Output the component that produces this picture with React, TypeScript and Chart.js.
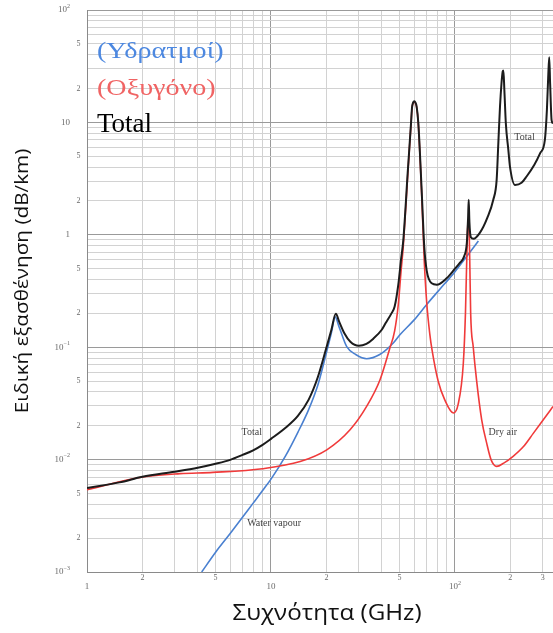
import React, { useEffect, useRef } from 'react';
import { Chart, registerables } from 'chart.js';

Chart.register(...registerables);

// ---- Data (frequency in GHz, specific attenuation in dB/km) ----
const totalFreq = [1, 1.5, 2, 3, 4, 5, 6, 7, 8, 9, 10, 12, 14, 16, 18, 20, 21.3, 22.5, 23.5, 25, 27, 30, 33, 36, 40, 42, 45, 47, 49.2, 50.9, 52.4, 55.3, 57.7, 58.4, 59.2, 60.1, 61, 61.9, 63.2, 65.9, 68.1, 70.2, 74.7, 79.6, 90, 100, 106, 112, 116, 117.8, 118.75, 119.8, 122, 126, 137, 150, 161.5, 168.5, 172, 175.7, 179, 181.7, 183.3, 185.5, 189, 195, 199, 212, 230, 245, 270, 290, 308, 316, 321, 325.2, 329, 335, 341];
const totalAtten = [0.0056, 0.00627, 0.00703, 0.0078, 0.00846, 0.00918, 0.00995, 0.011, 0.0121, 0.01354, 0.0153, 0.0192, 0.0245, 0.034, 0.0546, 0.0988, 0.143, 0.198, 0.168, 0.134, 0.112, 0.103, 0.107, 0.119, 0.143, 0.164, 0.198, 0.23, 0.36, 0.6, 0.9, 3.5, 9.9, 13.5, 15.0, 15.4, 15.0, 13.8, 9.9, 2.5, 0.78, 0.48, 0.37, 0.36, 0.41, 0.5, 0.56, 0.64, 0.85, 1.4, 2.05, 1.3, 0.95, 0.92, 1.05, 1.42, 2.05, 3.1, 6.5, 13.9, 22.3, 28.4, 29, 19.5, 9.8, 5.7, 4.05, 2.78, 2.9, 3.3, 4.2, 5.3, 7.0, 13, 25, 38, 22, 10.5, 9.8];

const vapourFreq = [4.2, 5, 6, 8, 9, 10, 12, 14, 16, 18, 20, 21.3, 22.3, 23.5, 25.8, 29, 33.1, 39, 46.2, 50.2, 60, 70.2, 88.3, 100, 115.7, 134];
const vapourAtten = [0.001, 0.0015, 0.0022, 0.0041, 0.0053, 0.0067, 0.0108, 0.0175, 0.0277, 0.0463, 0.0891, 0.134, 0.186, 0.15, 0.101, 0.0857, 0.079, 0.086, 0.109, 0.129, 0.175, 0.24, 0.37, 0.47, 0.64, 0.88];

const dryFreq = [1, 2, 3.2, 4.84, 9, 14.4, 20.1, 26.9, 33.1, 39.1, 44, 47, 49.2, 50.9, 52.4, 55.3, 57.7, 58.4, 59.2, 60.1, 61, 61.9, 63.2, 65.9, 68.1, 70.2, 73, 75, 81, 88, 98, 104, 111, 114, 117, 118.75, 120.3, 121.7, 125.7, 131, 139.7, 148.7, 157, 168.5, 184, 207, 235, 267, 302, 341];
const dryAtten = [0.0054, 0.007, 0.0075, 0.0077, 0.0083, 0.0096, 0.0122, 0.0184, 0.0297, 0.051, 0.095, 0.14, 0.24, 0.47, 0.8, 3.3, 9.7, 13.3, 14.8, 15.2, 14.8, 13.6, 9.7, 2.3, 0.58, 0.25, 0.13, 0.095, 0.05, 0.034, 0.026, 0.031, 0.072, 0.2, 1.1, 1.4, 0.6, 0.2, 0.1, 0.051, 0.0226, 0.014, 0.01, 0.0087, 0.0093, 0.0107, 0.013, 0.0172, 0.0226, 0.0297];

// ---- Axis ticks and labels ----
const xMin = 1;
const xMax = 341;
const yMin = 0.001;
const yMax = 100;
const xGridValues = [1, 2, 3, 4, 5, 6, 7, 8, 9, 10, 20, 30, 40, 50, 60, 70, 80, 90, 100, 200, 300];
const yGridValues = [0.001, 0.002, 0.003, 0.004, 0.005, 0.006, 0.007, 0.008, 0.009, 0.01, 0.02, 0.03, 0.04, 0.05, 0.06, 0.07, 0.08, 0.09, 0.1, 0.2, 0.3, 0.4, 0.5, 0.6, 0.7, 0.8, 0.9, 1, 2, 3, 4, 5, 6, 7, 8, 9, 10, 20, 30, 40, 50, 60, 70, 80, 90, 100];
const xLabelValues = [1, 2, 5, 10, 20, 50, 100, 200, 300];
const xLabelTexts = ['1', '2', '5', '10', '2', '5', '10^2', '2', '3'];
const yLabelValues = [0.001, 0.002, 0.005, 0.01, 0.02, 0.05, 0.1, 0.2, 0.5, 1, 2, 5, 10, 20, 50, 100];
const yLabelTexts = ['10^−3', '2', '5', '10^−2', '2', '5', '10^−1', '2', '5', '1', '2', '5', '10', '2', '5', '10^2'];

// ---- Curve annotations (anchored in data units) ----
const noteTexts = ['Total', 'Water vapour', 'Dry air', 'Total'];
const noteFreq = [7.86, 10.4, 182, 238.7];
const noteAtten = [0.0173, 0.00271, 0.0173, 7.37];

const legendTexts = ['(Υδρατμοί)', '(Οξυγόνο)', 'Total'];
const legendColors = ['#4d88e0', '#f06464', '#000000'];

const xTitle = 'Συχνότητα (GHz)';
const yTitle = 'Ειδική εξασθένηση (dB/km)';

const isDecade = (v: number) => Math.abs(Math.log10(v) - Math.round(Math.log10(v))) < 1e-9;

function drawTickText(ctx: CanvasRenderingContext2D, text: string, x: number, y: number, align: string, size: number) {
  const [base, exp] = text.split('^');
  const baseFont = `${size}px "Liberation Serif"`;
  const expFont = `${Math.round(size * 0.72)}px "Liberation Serif"`;
  ctx.font = baseFont;
  const bw = ctx.measureText(base).width;
  let ew = 0;
  if (exp) {
    ctx.font = expFont;
    ew = ctx.measureText(exp).width;
  }
  const total = bw + ew;
  const left = align === 'right' ? x - total : align === 'center' ? x - total / 2 : x;
  ctx.textAlign = 'left';
  ctx.textBaseline = 'middle';
  ctx.font = baseFont;
  ctx.fillText(base, left, y);
  if (exp) {
    ctx.font = expFont;
    ctx.fillText(exp, left + bw, y - size * 0.42);
  }
}

const overlayPlugin = {
  id: 'overlay',
  afterDraw(chart: any) {
    const ctx: CanvasRenderingContext2D = chart.ctx;
    const xs = chart.scales.x;
    const ys = chart.scales.y;
    const area = chart.chartArea;
    ctx.save();
    // tick labels
    ctx.fillStyle = '#6a6a6a';
    yLabelValues.forEach((v, i) => {
      const py = ys.getPixelForValue(v);
      const major = isDecade(v);
      drawTickText(ctx, yLabelTexts[i], major ? area.left - 17 : area.left - 6.5, py, 'right', major ? 9 : 8);
    });
    xLabelValues.forEach((v, i) => {
      const px = xs.getPixelForValue(v);
      const major = isDecade(v);
      drawTickText(ctx, xLabelTexts[i], px, major ? area.bottom + 15 : area.bottom + 6, 'center', major ? 9 : 8);
    });
    // curve notes
    ctx.fillStyle = '#444';
    ctx.font = '10px "Liberation Serif"';
    ctx.textAlign = 'center';
    ctx.textBaseline = 'middle';
    noteTexts.forEach((t, i) => {
      ctx.fillText(t, xs.getPixelForValue(noteFreq[i]), ys.getPixelForValue(noteAtten[i]));
    });
    // legend texts
    ctx.textAlign = 'left';
    ctx.textBaseline = 'alphabetic';
    const legendBaselines = [58, 95, 132];
    const legendSizes = [24, 24, 27];
    const legendStretch = [1.17, 1.17, 1.0];
    legendTexts.forEach((t, i) => {
      ctx.save();
      ctx.fillStyle = legendColors[i];
      ctx.font = `${legendSizes[i]}px "Liberation Serif"`;
      ctx.translate(area.left + 10, legendBaselines[i]);
      ctx.scale(legendStretch[i], 1);
      ctx.fillText(t, 0, 0);
      ctx.restore();
    });
    // axis titles
    ctx.fillStyle = '#111';
    ctx.textAlign = 'center';
    ctx.save();
    ctx.font = '22px "Open Sans"';
    ctx.translate((area.left + area.right) / 2 + 7, 620);
    ctx.scale(1.1, 1);
    ctx.fillText(xTitle, 0, 0);
    ctx.restore();
    ctx.save();
    ctx.font = '18px "Open Sans"';
    ctx.translate(28, (area.top + area.bottom) / 2 - 10);
    ctx.rotate(-Math.PI / 2);
    ctx.scale(1.15, 1);
    ctx.fillText(yTitle, 0, 0);
    ctx.restore();
    ctx.restore();
  },
};

const gridColor = (c: any) => (c.tick && c.tick.major ? '#9a9a9a' : '#d2d2d2');

export default function App() {
  const canvasRef = useRef<HTMLCanvasElement | null>(null);

  useEffect(() => {
    if (!canvasRef.current) return;
    const chart = new Chart(canvasRef.current, {
      type: 'line',
      data: {
        datasets: [
          {
            label: 'Total',
            data: totalFreq.map((f, i) => ({ x: f, y: totalAtten[i] })),
            borderColor: '#1c1c1c',
            borderWidth: 2,
            pointRadius: 0,
            cubicInterpolationMode: 'monotone',
            order: 0,
          },
          {
            label: 'Dry air',
            data: dryFreq.map((f, i) => ({ x: f, y: dryAtten[i] })),
            borderColor: '#f03a3a',
            borderWidth: 1.6,
            pointRadius: 0,
            cubicInterpolationMode: 'monotone',
            order: 1,
          },
          {
            label: 'Water vapour',
            data: vapourFreq.map((f, i) => ({ x: f, y: vapourAtten[i] })),
            borderColor: '#4a80d0',
            borderWidth: 1.6,
            pointRadius: 0,
            cubicInterpolationMode: 'monotone',
            order: 2,
          },
        ],
      },
      options: {
        animation: false,
        responsive: false,
        devicePixelRatio: 1,
        layout: { padding: { top: 10, right: 0, left: 0, bottom: 0 } },
        plugins: { legend: { display: false }, tooltip: { enabled: false } },
        scales: {
          x: {
            type: 'logarithmic',
            min: xMin,
            max: xMax,
            afterBuildTicks: (s: any) => {
              s.ticks = xGridValues.map((v) => ({ value: v, major: isDecade(v) }));
            },
            afterFit: (s: any) => {
              s.height = 61;
            },
            ticks: { display: false },
            grid: { color: gridColor, drawTicks: false, lineWidth: 1 },
            border: { color: '#8a8a8a', width: 1 },
            title: { display: false },
          },
          y: {
            type: 'logarithmic',
            min: yMin,
            max: yMax,
            afterBuildTicks: (s: any) => {
              s.ticks = yGridValues.map((v) => ({ value: v, major: isDecade(v) }));
            },
            afterFit: (s: any) => {
              s.width = 87;
            },
            ticks: { display: false },
            grid: { color: gridColor, drawTicks: false, lineWidth: 1 },
            border: { color: '#8a8a8a', width: 1 },
            title: { display: false },
          },
        },
      },
      plugins: [overlayPlugin],
    } as any);
    return () => chart.destroy();
  }, []);

  return (
    <div style={{ position: 'absolute', left: 0, top: 0, width: 553, height: 633, background: '#fff' }}>
      <canvas ref={canvasRef} width={553} height={633} style={{ display: 'block' }} />
    </div>
  );
}
